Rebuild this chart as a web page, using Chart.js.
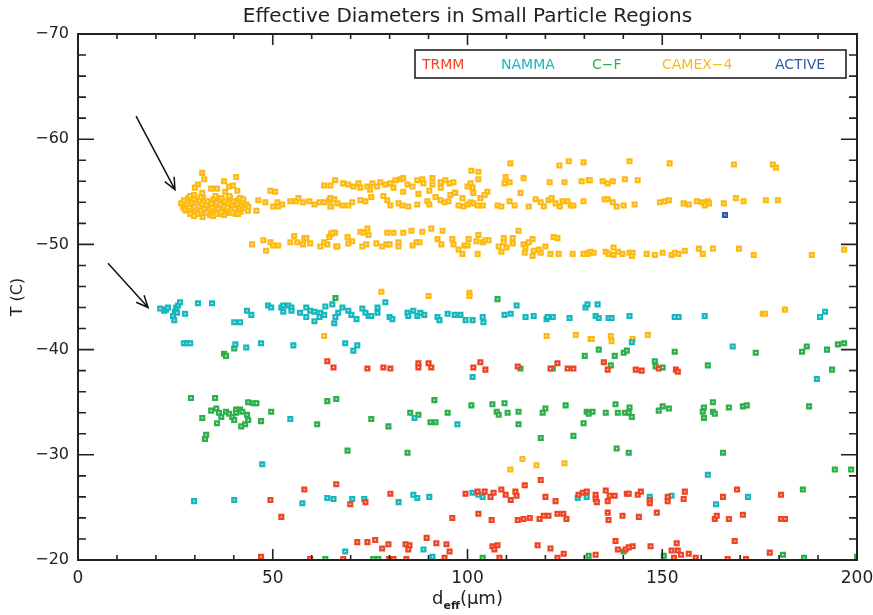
<!DOCTYPE html>
<html><head><meta charset="utf-8">
<script src="https://cdn.jsdelivr.net/npm/chart.js@4/dist/chart.umd.min.js"></script>
<style>html,body{margin:0;padding:0;background:#fff}canvas{display:block}</style>
</head><body>
<canvas id="c" width="873" height="615"></canvas>
<script>
const chartTitle = 'Effective Diameters in Small Particle Regions';
const seriesNames = ['TRMM','NAMMA','C\u2212F','CAMEX\u22124','ACTIVE'];
const seriesColors = ['#EE4524','#17B7BD','#2DB04B','#FDBA14','#2B5BAA'];
const yTickValues = [-70,-60,-50,-40,-30,-20];
const yTickLabels = ['\u221270','\u221260','\u221250','\u221240','\u221230','\u221220'];
const xTickValues = [0,50,100,150,200];
const xTickLabels = ['0','50','100','150','200'];

// [deff (um), T (C)]
const trmm = [
[64,-38.9],[65.6,-38.3],[74.3,-38.2],[78.4,-38.3],[80.2,-38.2],[87.4,-38.7],[87.4,-38.3],[90,-38.7],[90.7,-38.3],
[101.5,-38.3],[103.3,-38.8],[104.6,-38.1],[112.9,-38.4],[121.3,-38.2],[123.1,-38.7],[125.7,-38.2],[127.2,-38.2],
[135,-38.8],[136,-38.1],[143.2,-38.1],[144.7,-38],[149.1,-38.2],[153.5,-38.1],[154,-37.9],
[49.4,-25.7],[58.1,-26.7],[52.2,-24.1],[47,-20.3],[59.6,-20.1],[66.3,-27.2],
[69.9,-25.3],[73.8,-25.5],[80.2,-26.3],[99.5,-26.3],[102.6,-26.5],[104.4,-26.5],[105.9,-26],[106.7,-26.4],
[108.7,-26.7],[109.8,-26.2],[111.1,-25.7],[112.3,-26.5],[112.6,-26.1],[114.7,-27.1],[118.8,-27.6],[120,-26],
[122.6,-25.6],[128.5,-26.2],[129.6,-26.4],[130.6,-26.5],[96.1,-24],[102.8,-24.4],[106.2,-23.8],[112.9,-23.8],
[114.4,-23.9],[116,-24],[118.5,-23.9],[119.6,-24.2],[120.8,-24.2],[123.1,-24.4],[124.6,-24.4],[125.4,-23.9],
[71.7,-21.7],[74.3,-21.7],[76.3,-21.9],[78.1,-21.1],[79.7,-21.5],[84.1,-21.5],[85.1,-21.4],[84.8,-21],
[89.5,-22.1],[92,-21.6],[94.6,-21.5],[95.4,-20.8],[106.4,-21.3],[107.7,-21.4],[106.9,-21],[118,-21.4],
[121.3,-21.1],[124.7,-20.6],[68.1,-20.1],[79.9,-20.1],[81,-20.1],[84.3,-20.1],[94.1,-20.2],[108.2,-20.2],[123.1,-20.2],
[132.9,-26.2],[132.9,-25.8],[133.2,-25.5],[135.5,-26.6],[136.5,-26.1],[136,-25.6],[137.8,-26.1],
[140.9,-26.3],[141.4,-26.3],[143.7,-26.2],[144.5,-26.5],[146.8,-25.7],[146.8,-25.4],[151.4,-26],[151.4,-25.6],
[155.5,-25.8],[155.8,-26.5],[165.6,-26],[169.2,-26.7],[180.5,-26.2],[136,-24.5],[136.2,-23.8],[139.8,-24.2],
[144,-24.1],[148.6,-24.5],[163.5,-23.9],[164,-24.2],[167.1,-23.9],[170.7,-24.3],[180.5,-23.9],[181.5,-23.9],
[138,-21.8],[138.6,-21],[140.6,-21],[141.4,-21.2],[142.4,-21.3],[147,-21.3],[153.7,-21.6],[152.4,-20.9],
[154,-20.9],[154.8,-20.5],[153,-20.2],[156.8,-20.6],[158.6,-20.2],[166.8,-20.1],[171.5,-20.1],[168.6,-21.8],
[177.6,-20.7],[132.9,-20.5]
];
const namma = [
[21.1,-43.9],[22.1,-43.7],[22.6,-43.8],[23.1,-44],[25.2,-44],[25.7,-44.2],[26.2,-44.5],[24.9,-43.6],[25.4,-43.5],
[24.4,-43.2],[24.7,-42.8],[27.5,-43.4],[30.8,-44.4],[34.4,-44.4],[27.2,-40.6],[28,-40.6],[28.8,-40.6],
[40.4,-40.5],[43.2,-40.2],[47,-40.6],[55.3,-40.4],[40.1,-42.6],[41.6,-42.6],[43.4,-43.7],[44.5,-43.3],
[48.8,-44.2],[49.6,-44],[52.2,-44],[52.7,-44.2],[52.7,-43.6],[54,-44.2],[54.8,-44],[54.8,-43.7],[57,-43.5],
[58.6,-44],[58.6,-43.1],[59.6,-43.7],[60.7,-43.6],[60.7,-42.7],[62,-43.1],[62.2,-43.5],[63.2,-43.3],[63.5,-44.1],
[65.3,-44.3],[65.8,-42.5],[66.1,-43.1],[54.5,-33.4],
[67.9,-44],[66.8,-43.5],[69.4,-43.7],[70.2,-43.3],[71.5,-42.9],[73,-43.9],[73.8,-43.5],[74.6,-43.2],[75.3,-43.2],
[76.9,-44],[76.9,-43.5],[78.9,-44.5],[80,-43.1],[80.7,-42.9],[84.6,-43.5],[84.8,-43.2],[86.1,-43.7],[87.1,-43.2],
[87.9,-43.5],[88.9,-43.3],[92.3,-43.1],[92.8,-42.8],[94.9,-43.4],[96.7,-43.3],[98.2,-43.3],[99.5,-42.8],[101.3,-42.8],
[103.9,-43.1],[104.1,-42.6],[109.5,-43.3],[111.1,-43.4],[112.6,-44.2],[114.9,-43.1],[117,-43.2],[120.3,-42.9],
[120.6,-43.1],[121.9,-43.1],[126.2,-43],[130.3,-44],[130.8,-44.3],[68.6,-40.6],[71.7,-40.4],[70.7,-39.9],
[101.3,-37.4],[86.4,-33.5],[97.4,-32.9],
[133.4,-44.3],[132.9,-43.2],[133.7,-43],[136.2,-43],[137,-43],[141.6,-43.2],[153.2,-43.1],[154.2,-43.1],
[160.9,-43.2],[190.5,-43.1],[191.8,-43.6],[142.2,-40.7],[168.1,-40.3],[189.7,-37.2],
[47.3,-29.1],[29.8,-25.6],[40.1,-25.7],[57.6,-25.4],[64,-25.9],[65.6,-25.8],[70.4,-25.8],[73.5,-25.8],
[82.3,-25.5],[86.1,-26.2],[87.1,-25.9],[90.2,-26],[101.3,-26.4],[102.8,-26.2],[103.9,-26],[128.3,-25.9],
[130.6,-26],[68.6,-20.8],[88.7,-21],[91,-20.3],[146.8,-26],[152.4,-26.1],[172,-26],[161.7,-28.1],[163.8,-25.3]
];
const cf = [
[37.5,-39.6],[38,-39.4],[40.1,-40.1],[66.1,-44.9],[29,-35.4],[35.2,-35.4],[34.2,-34.2],[35.5,-34.4],[36.2,-34],
[36.8,-33.6],[38,-34.1],[38.8,-33.9],[39.6,-33.6],[40.6,-34.3],[40.6,-34],[41.6,-34.3],[42.2,-34.1],[43.4,-33.8],
[43.7,-35],[45,-34.9],[45.8,-34.9],[40.1,-33.3],[43.7,-33.3],[42.9,-32.9],[41.9,-32.7],[35.7,-33],[31.9,-33.5],
[32.9,-31.9],[32.6,-31.5],[47,-33.2],[49.6,-34.1],[64,-35.1],[61.4,-32.9],[66.3,-35.3],
[107.7,-44.8],[75.3,-33.4],[79.7,-32.7],[85.3,-34],[87.4,-33.8],[90.5,-33.1],[91.8,-33.1],[91.5,-35.2],
[94.9,-34],[101,-34.7],[106.4,-34.8],[107.5,-34.1],[108,-33.8],[109.5,-34.9],[110.3,-34],[113.1,-34.1],
[113.1,-32.9],[118.8,-31.6],[119.3,-34],[120,-34.4],[125.2,-34.7],[127.2,-31.8],[129.8,-33],[130.6,-34.1],
[131.1,-33.9],[130.1,-39.4],[113.6,-38.2],[121.9,-38.2],[69.2,-30.4],
[133.7,-40],[137.8,-39.4],[140.1,-39.7],[140.9,-39.9],[136.8,-38.5],[148.1,-38.9],[148.3,-38.4],[150.1,-38.3],
[153.2,-39.8],[161.7,-38.5],[174,-39.7],[185.9,-39.8],[187.1,-40.3],[192.3,-40],[193.6,-38.1],[195.1,-40.5],
[196.7,-40.6],[132.1,-34.1],[135.5,-34],[138,-34.8],[138.6,-34],[140.4,-34],[141.4,-34],[141.6,-34.5],
[142.2,-33.6],[138.3,-30.6],[149.1,-34.2],[150.1,-34.6],[151.7,-34.4],[160.4,-34.1],[160.7,-34.5],[160.7,-33.5],
[163,-35],[163,-34.1],[163.5,-33.9],[167.1,-34.5],[170.7,-34.6],[171.7,-34.7],[187.7,-34.6],
[84.6,-30.2],[75.8,-20.1],[77.1,-20.1],[103.9,-20.2],[141.4,-30.2],[165.6,-30.2],[194.3,-28.6],
[198.5,-28.6],[186.1,-26.7],[140.1,-20.8],[131.1,-20.4],[150.4,-20.4],[181,-20.5],[186.4,-20.2],[200,-20.3],[63.5,-20.1]
];
const camex = [
[26.5,-53.9],[27,-53.5],[27.2,-54.2],[27.8,-53.2],[28,-53.8],[28.3,-54.4],[28.6,-53.5],[29,-53.1],[29.2,-54],
[29.5,-53.6],[29.8,-54.3],[30.1,-53.3],[30.4,-53.9],[30.7,-52.9],[31,-53.6],[31.2,-54.2],[31.5,-53.2],[31.8,-53.8],
[32.1,-54.4],[32.4,-53.4],[32.7,-53],[33,-53.7],[33.3,-54.1],[33.6,-53.3],[33.9,-52.8],[34.2,-53.9],[34.5,-53.5],
[34.8,-54.3],[35.1,-53.1],[35.4,-53.7],[35.7,-54],[36,-53.4],[36.3,-52.9],[36.6,-53.8],[36.9,-54.3],[37.2,-53.2],
[37.5,-53.6],[37.8,-54.1],[38.1,-53],[38.4,-53.5],[38.7,-53.9],[39,-54.4],[39.3,-53.3],[39.6,-53.7],[39.9,-54.1],
[40.2,-53.4],[40.5,-52.9],[40.8,-53.8],[41.1,-54.2],[41.4,-53.5],[41.7,-53.1],[42,-53.7],[42.4,-54],[42.8,-53.4],
[43.2,-53.8],[43.6,-53.2],[30,-53.6],[31.5,-54.5],[33,-53],[34.7,-52.7],[36,-54.4],[37.5,-52.8],[38.8,-54.6],
[28.8,-52.9],[32,-52.6],[35.3,-54.6],[27.5,-53.3],[36.8,-53.1],
[31.9,-56.8],[32.4,-56.2],[30.8,-55.7],[30,-55.4],[37.5,-56],[40.6,-56.4],[34.2,-55.3],[35.7,-55.3],[38.8,-55.5],
[39.8,-55.6],[40.9,-55.1],[37.8,-55],[31.9,-54.9],[28.8,-54.6],[29.8,-54.7],[36.8,-54.4],[41.6,-54.4],[42.4,-54.3],
[43.7,-53.6],[41.1,-52.9],[39.6,-53],[35.5,-52.9],[29.8,-52.7],
[46.3,-54.2],[48.1,-54],[49.4,-55.1],[50.6,-55],[45.8,-53.2],[50.1,-53.6],[51.2,-54],[51.4,-53.6],[52.4,-53.8],
[54.5,-54.1],[56,-54.1],[56.6,-54.4],[57.8,-54],[59.4,-54.1],[60.7,-53.8],[62,-54],[63.2,-54],[64.5,-54.2],
[65,-53.6],[65.8,-54.3],[63.2,-55.6],[64.8,-55.6],[66,-56.1],
[44.7,-50],[47.6,-50.4],[48.3,-49.4],[49.4,-50.2],[50.1,-49.9],[51.4,-49.9],[54.5,-50.2],[55.5,-50.8],[56.3,-50.2],
[57.8,-50],[58.1,-50.6],[58.6,-50.6],[59.6,-50.1],[62.2,-49.8],[63.2,-50.2],[64,-50],[64.5,-50.7],[65,-51],
[66,-51.1],[66.3,-49.8],
[68.1,-55.8],[69.4,-55.7],[70.7,-55.5],[72,-55.8],[72.5,-55.4],[74.3,-55.5],[75,-55.2],[75.6,-55.8],[76.8,-55.5],
[77.6,-55.9],[78.9,-55.7],[80.2,-55.8],[81,-55.4],[81.5,-56.1],[82.8,-56.2],[83.5,-56.3],[83.5,-55],[84.6,-55.7],
[85.9,-55.5],[87.1,-56.1],[87.4,-54.8],[88.4,-56.2],[88.7,-55.8],[90.2,-55.1],[91,-56.3],[91,-55.7],[93.1,-55.9],
[93.1,-55.4],[94.3,-56.1],[95.4,-55.8],[96.4,-55.9],[96.9,-54.9],[100,-55.5],[100.8,-55.8],[101.3,-55.4],
[101.5,-54.9],[102.8,-56.2],[102.8,-56.9],[101,-57],[105.1,-55],[111,-57.7],[109.8,-56.4],[109.5,-55.8],
[110.8,-55.9],[114.4,-56.3],[113.6,-54.9],[123.6,-57.5],[126,-57.9],[129.8,-57.8],[121.1,-55.9],[124.9,-55.9],
[129.3,-56],[131.1,-56.1],
[64.8,-53.6],[66.6,-53.9],[67.9,-53.7],[69.4,-53.7],[70.4,-54],[72.5,-54.2],[73.8,-54.1],[75.3,-54.5],[78.4,-54.6],
[79.4,-54.2],[80.2,-53.7],[82.3,-53.9],[83.3,-53.7],[84.8,-53.6],[87.1,-53.8],[89.7,-54.1],[90.2,-53.8],[91.8,-54.5],
[93.1,-54.2],[94.1,-54],[95.1,-54.1],[95.6,-54.7],[96.7,-54.9],[97.7,-53.7],[98.7,-54.4],[99,-53.6],[100,-53.8],
[100.8,-54],[101.5,-53.9],[102.6,-53.7],[103.3,-54.4],[103.9,-53.7],[104.4,-54.7],[107.7,-53.7],[108.7,-53.6],
[110.8,-54.1],[112.1,-53.7],[115.7,-53.6],[117.5,-54.3],[118.8,-54],[119.6,-53.6],[120.8,-54.2],[121.6,-54.4],
[122.6,-53.9],[123.7,-53.6],[124.4,-54.1],[125.7,-54.1],[126.5,-53.7],[127.2,-53.7],[129.8,-54.1],[64.8,-54.4],
[65.3,-51.1],[66.6,-49.8],[69.2,-50.7],[69.4,-50.1],[70.4,-50.3],[72.5,-51.2],[73.3,-51.1],[74.3,-51.5],[74.6,-50.9],
[73,-49.8],[74,-50],[76.6,-50.1],[78.1,-49.8],[79.2,-50],[80,-50],[79.4,-51.1],[81,-51.1],[82.3,-50.2],[82.3,-49.8],
[83.5,-51.1],[85.6,-51.3],[85.9,-49.9],[86.9,-50.2],[87.7,-50.2],[88.4,-51.2],[90.7,-51.5],[92.3,-50.5],[93.3,-50],
[93.6,-51.3],[96.1,-50.5],[96.4,-50],[97.7,-49.5],[98.7,-49.1],[99.2,-49.9],[100,-49.9],[100.3,-50.5],[102.3,-50.3],
[102.6,-49.1],[102.8,-50.9],[103.9,-50.2],[104.6,-50.4],[105.4,-50.4],[108,-49.8],[108.7,-49.3],[109.3,-50.6],
[109.3,-50.2],[110,-49.7],[111.6,-50.6],[111.6,-50.1],[113.1,-51.3],[114.4,-50],[114.9,-49.7],[114.7,-49.2],
[115.7,-50.2],[116.7,-50.5],[116.7,-48.9],[117,-49.4],[118.3,-49.5],[118.8,-49.2],[120,-49.8],[121.3,-49.1],
[122.1,-50.7],[123.1,-50.6],[123.4,-49.1],[127,-49.1],[129.8,-49.1],[131.1,-49.2],
[141.6,-57.9],[151.9,-57.7],[168.4,-57.6],[178.4,-57.6],[179.2,-57.3],
[131.4,-56.1],[134.7,-56],[136,-55.8],[137.3,-56],[140.4,-56.2],[143.7,-56.1],
[135.2,-54.3],[136,-54.3],[137.3,-54],[138.3,-53.6],[140.1,-53.7],[142.9,-53.8],[149.4,-54],[150.6,-54.1],
[151.7,-54.2],[155.5,-53.9],[156.8,-53.8],[158.9,-54.1],[160.2,-54],[160.9,-53.7],[161.7,-54.1],[162,-53.9],
[165.8,-53.9],[168.9,-54.4],[170.9,-54.1],[176.6,-54.2],[179.7,-54.2],
[130.8,-49.1],[131.6,-49.3],[132.4,-49.2],[135.5,-49.3],[136.2,-49.1],[137.5,-49.7],[137.5,-49],[138.6,-49.3],
[139.8,-49.1],[141.6,-49.2],[142.4,-49.2],[142.2,-48.9],[146,-49.1],[148.1,-49],[150.1,-49.2],[152.4,-49],
[153.2,-49.2],[154.2,-49.1],[155.8,-49.4],[159.4,-49.6],[160.4,-49.1],[163,-49.6],[169.7,-49.6],[173.5,-49],
[188.4,-49],[196.7,-49.5],
[77.9,-45.5],[90,-45.1],[100.5,-45.4],[100.5,-45.1],[120.3,-41.3],[127.8,-41.4],[131.6,-41],[63.2,-41.3],
[175.8,-43.4],[176.4,-43.4],[181.5,-43.8],[131.9,-41],[136.8,-41.3],[137,-40.8],[142.4,-41],[146.3,-41.4],
[111,-28.6],[114.1,-29.6],[117.7,-29],[124.9,-29.2]
];
const active = [[166.1,-52.8]];
const seriesData = [trmm, namma, cf, camex, active];

// arrow annotations in data units: [x0, T0, x1, T1]
const arrowAnnotations = [[14.9,-62.2,24.9,-55.2],[7.7,-48.2,18.0,-44.0]];

const FONT = "'DejaVu Sans', sans-serif";
const INK = '#222';

const decor = {
  id:'decor',
  afterDraw(chart){
    const ctx = chart.ctx, a = chart.chartArea, xs = chart.scales.x, ys = chart.scales.y;
    ctx.save();
    ctx.strokeStyle = INK; ctx.lineWidth = 2;
    ctx.strokeRect(a.left, a.top, a.right-a.left, a.bottom-a.top);
    ctx.lineWidth = 1.6;
    ctx.beginPath();
    for(let v=0; v<=200; v+=10){
      const px = xs.getPixelForValue(v), L = (v%50===0)?11:5;
      ctx.moveTo(px,a.bottom); ctx.lineTo(px,a.bottom-L);
      ctx.moveTo(px,a.top); ctx.lineTo(px,a.top+L);
    }
    for(let v=-70; v<=-20; v+=2){
      const py = ys.getPixelForValue(v), L = (v%10===0)?16:8;
      ctx.moveTo(a.left,py); ctx.lineTo(a.left+L,py);
      ctx.moveTo(a.right,py); ctx.lineTo(a.right-L,py);
    }
    ctx.stroke();
    // arrows
    ctx.lineWidth = 1.5; ctx.strokeStyle = '#111';
    arrowAnnotations.forEach(ar=>{
      const x0=xs.getPixelForValue(ar[0]), y0=ys.getPixelForValue(ar[1]);
      const x1=xs.getPixelForValue(ar[2]), y1=ys.getPixelForValue(ar[3]);
      const ang=Math.atan2(y1-y0,x1-x0), h=13, s=0.42;
      ctx.beginPath();
      ctx.moveTo(x0,y0); ctx.lineTo(x1,y1);
      ctx.moveTo(x1-h*Math.cos(ang-s), y1-h*Math.sin(ang-s)); ctx.lineTo(x1,y1);
      ctx.lineTo(x1-h*Math.cos(ang+s), y1-h*Math.sin(ang+s));
      ctx.stroke();
    });
    // legend box
    const bl = a.left+337, br = a.right-11, bt = a.top+16, bb = a.top+44;
    ctx.lineWidth = 1.6; ctx.strokeStyle = INK;
    ctx.strokeRect(bl, bt, br-bl, bb-bt);
    const offs = [7, 86, 177, 247, 360];
    ctx.font = "14px " + FONT; ctx.textBaseline = 'middle'; ctx.textAlign = 'left';
    seriesNames.forEach((n,i)=>{ ctx.fillStyle = seriesColors[i]; ctx.fillText(n, bl+offs[i], (bt+bb)/2+1); });
    // x axis label with subscript
    ctx.fillStyle = INK; ctx.textBaseline = 'alphabetic';
    const cx = (a.left+a.right)/2, by = 604;
    const f1 = "18px "+FONT, f2 = "bold 11px "+FONT;
    ctx.font = f1; const wd = ctx.measureText('d').width, wr = ctx.measureText('(\u03bcm)').width;
    ctx.font = f2; const ws = ctx.measureText('eff').width;
    let x = cx - (wd+ws+wr)/2;
    ctx.font = f1; ctx.fillText('d', x, by); x += wd;
    ctx.font = f2; ctx.fillText('eff', x, by+5); x += ws;
    ctx.font = f1; ctx.fillText('(\u03bcm)', x, by);
    ctx.restore();
  }
};

function zeroPad(s){ s.paddingLeft = 0; s.paddingRight = 0; s.paddingTop = 0; s.paddingBottom = 0; }

new Chart(document.getElementById('c'), {
  type:'scatter',
  data:{ datasets: seriesData.map((d,i)=>({
    label: seriesNames[i],
    data: d.map(p=>({x:p[0], y:p[1]})),
    pointStyle:'rect', radius:2.6, borderWidth:2.4,
    borderColor: seriesColors[i], backgroundColor:'#ffffff'
  }))},
  options:{
    responsive:false, animation:false,
    layout:{padding:{left:0,right:16,top:0,bottom:0}},
    plugins:{
      legend:{display:false}, tooltip:{enabled:false},
      title:{display:true, text:chartTitle, color:INK, fullSize:false,
        font:{family:FONT, size:20, weight:'normal', lineHeight:1.2}, padding:{top:5,bottom:5}}
    },
    scales:{
      x:{type:'linear', min:0, max:200,
        afterBuildTicks(s){ s.ticks = xTickValues.map(v=>({value:v})); },
        ticks:{color:INK, font:{family:FONT,size:17}, padding:8, maxRotation:0,
          callback:(v)=>{const i=xTickValues.indexOf(v); return i<0?'':xTickLabels[i];}},
        grid:{display:false, drawTicks:false}, border:{display:false},
        afterFit(s){ s.height = 55; zeroPad(s); }
      },
      y:{type:'linear', min:-70, max:-20, reverse:true,
        afterBuildTicks(s){ s.ticks = yTickValues.map(v=>({value:v})); },
        ticks:{color:INK, font:{family:FONT,size:16}, padding:9,
          callback:(v)=>{const i=yTickValues.indexOf(v); return i<0?'':yTickLabels[i];}},
        title:{display:true, text:'T (C)', color:INK, font:{family:FONT,size:16}, padding:{top:8,bottom:0}},
        grid:{display:false, drawTicks:false}, border:{display:false},
        afterFit(s){ s.width = 78; zeroPad(s); }
      }
    }
  },
  plugins:[decor]
});
</script>
</body></html>
